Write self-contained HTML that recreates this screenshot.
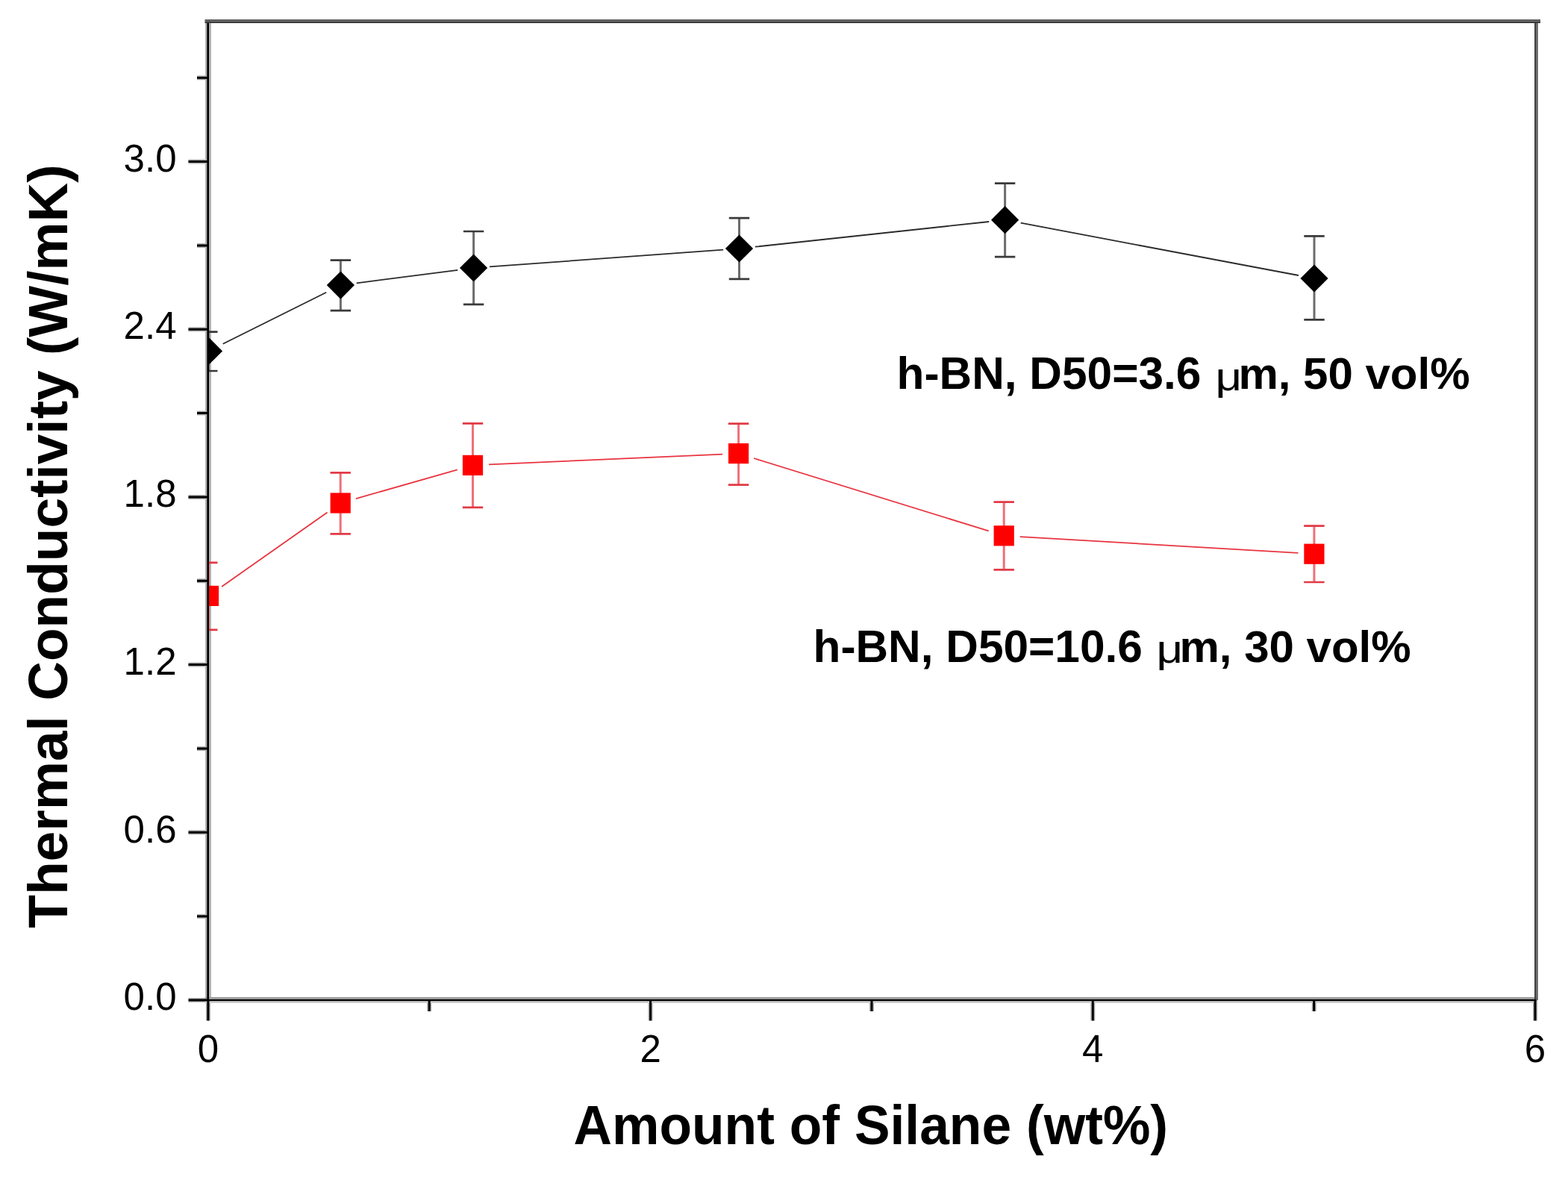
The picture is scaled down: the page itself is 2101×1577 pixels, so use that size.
<!DOCTYPE html><html><head><meta charset="utf-8"><title>Thermal Conductivity vs Amount of Silane</title><style>html,body{margin:0;padding:0;background:#fff;overflow:hidden;}svg{display:block;}text{font-family:"Liberation Sans",Arial,sans-serif;fill:#000;}</style></head><body>
<svg width="2101" height="1577" viewBox="0 0 2101 1577">
<rect x="0" y="0" width="2101" height="1577" fill="#fff"/>
<defs><clipPath id="pc"><rect x="278.7" y="28.5" width="1779.7" height="1311.5"/></clipPath></defs>
<path d="M252.5,1340.0H278.7M252.5,1115.3H278.7M252.5,890.6H278.7M252.5,665.9H278.7M252.5,441.2H278.7M252.5,216.5H278.7M264,1227.7H278.7M264,1003.0H278.7M264,778.2H278.7M264,553.6H278.7M264,328.9H278.7M264,104.2H278.7M278.9,1340.0V1367.5M871.6,1340.0V1367.5M1464.3,1340.0V1367.5M2057.0,1340.0V1367.5M575.2,1340.0V1355M1168.0,1340.0V1355M1760.7,1340.0V1355" stroke="#b0b0b0" stroke-width="6" fill="none"/>
<path d="M279,28.5V1340.0" stroke="#b4b4b4" stroke-width="8" fill="none"/>
<path d="M274.7,1337.5H2058.4" stroke="#9c9c9c" stroke-width="3" fill="none"/>
<path d="M274.7,1342.6H2058.4" stroke="#cdcdcd" stroke-width="2.8" fill="none"/>
<g clip-path="url(#pc)">
<path d="M298.7,460.8L437.2,391.7M477.7,379.3L613.3,361.8M656.0,357.4L969.1,334.6M1011.9,330.7L1325.2,297.0M1367.7,298.7L1739.9,369.0" fill="none" stroke="#2a2a2a" stroke-width="1.8"/>
<path d="M279.5,444.7V497.0" stroke="#6c6c6c" stroke-width="3.0" fill="none"/>
<path d="M267.5,444.7H291.5M267.5,497.0H291.5" stroke="#3a3a3a" stroke-width="2.7" fill="none"/>
<path d="M456.4,348.6V416.1" stroke="#6c6c6c" stroke-width="3.0" fill="none"/>
<path d="M442.7,348.6H470.1M442.7,416.1H470.1" stroke="#3a3a3a" stroke-width="2.7" fill="none"/>
<path d="M634.6,310.0V407.8" stroke="#6c6c6c" stroke-width="3.0" fill="none"/>
<path d="M620.9,310.0H648.3M620.9,407.8H648.3" stroke="#3a3a3a" stroke-width="2.7" fill="none"/>
<path d="M990.5,292.1V373.9" stroke="#6c6c6c" stroke-width="3.0" fill="none"/>
<path d="M976.8,292.1H1004.2M976.8,373.9H1004.2" stroke="#3a3a3a" stroke-width="2.7" fill="none"/>
<path d="M1346.6,245.7V344.2" stroke="#6c6c6c" stroke-width="3.0" fill="none"/>
<path d="M1332.9,245.7H1360.3M1332.9,344.2H1360.3" stroke="#3a3a3a" stroke-width="2.7" fill="none"/>
<path d="M1761.0,316.4V428.3" stroke="#6c6c6c" stroke-width="3.0" fill="none"/>
<path d="M1747.3,316.4H1774.7M1747.3,428.3H1774.7" stroke="#3a3a3a" stroke-width="2.7" fill="none"/>
<path d="M279.5,451.8L298.1,470.4L279.5,489.0L260.9,470.4Z" fill="#000"/>
<path d="M456.4,363.5L475.0,382.1L456.4,400.7L437.8,382.1Z" fill="#000"/>
<path d="M634.6,340.4L653.2,359.0L634.6,377.6L616.0,359.0Z" fill="#000"/>
<path d="M990.5,314.4L1009.1,333.0L990.5,351.6L971.9,333.0Z" fill="#000"/>
<path d="M1346.6,276.1L1365.2,294.7L1346.6,313.3L1328.0,294.7Z" fill="#000"/>
<path d="M1761.0,354.4L1779.6,373.0L1761.0,391.6L1742.4,373.0Z" fill="#000"/>
<path d="M297.1,786.0L438.6,686.4M476.9,668.1L612.8,629.3M655.0,622.4L968.1,608.6M1010.1,614.0L1324.7,711.4M1366.7,719.1L1739.4,740.9" fill="none" stroke="#e83440" stroke-width="1.8"/>
<path d="M279.5,753.9V843.8" stroke="#f07078" stroke-width="3.0" fill="none"/>
<path d="M267.5,753.9H291.5M267.5,843.8H291.5" stroke="#e23a46" stroke-width="2.7" fill="none"/>
<path d="M456.2,633.3V715.3" stroke="#f07078" stroke-width="3.0" fill="none"/>
<path d="M442.5,633.3H469.9M442.5,715.3H469.9" stroke="#e23a46" stroke-width="2.7" fill="none"/>
<path d="M633.5,567.4V679.8" stroke="#f07078" stroke-width="3.0" fill="none"/>
<path d="M619.8,567.4H647.2M619.8,679.8H647.2" stroke="#e23a46" stroke-width="2.7" fill="none"/>
<path d="M989.6,567.7V649.7" stroke="#f07078" stroke-width="3.0" fill="none"/>
<path d="M975.9,567.7H1003.3M975.9,649.7H1003.3" stroke="#e23a46" stroke-width="2.7" fill="none"/>
<path d="M1345.2,672.7V763.4" stroke="#f07078" stroke-width="3.0" fill="none"/>
<path d="M1331.5,672.7H1358.9M1331.5,763.4H1358.9" stroke="#e23a46" stroke-width="2.7" fill="none"/>
<path d="M1760.9,704.7V780.0" stroke="#f07078" stroke-width="3.0" fill="none"/>
<path d="M1747.2,704.7H1774.6M1747.2,780.0H1774.6" stroke="#e23a46" stroke-width="2.7" fill="none"/>
<rect x="265.9" y="784.8" width="27.2" height="27.2" fill="#ff0000"/>
<rect x="442.6" y="660.4" width="27.2" height="27.2" fill="#ff0000"/>
<rect x="619.9" y="609.8" width="27.2" height="27.2" fill="#ff0000"/>
<rect x="976.0" y="594.0" width="27.2" height="27.2" fill="#ff0000"/>
<rect x="1331.6" y="704.2" width="27.2" height="27.2" fill="#ff0000"/>
<rect x="1747.3" y="728.6" width="27.2" height="27.2" fill="#ff0000"/>
</g>
<path d="M274.5,27.25H2064" stroke="#5a5a5a" stroke-width="2.6" fill="none"/>
<path d="M274.5,29.75H2064" stroke="#3a3a3a" stroke-width="2.6" fill="none"/>
<path d="M2057.25,31.1V1340.0" stroke="#3e3e3e" stroke-width="2.4" fill="none"/>
<path d="M2059.55,31.1V1340.0" stroke="#5c5c5c" stroke-width="2.4" fill="none"/>
<path d="M252.5,1340.0H278.7M252.5,1115.3H278.7M252.5,890.6H278.7M252.5,665.9H278.7M252.5,441.2H278.7M252.5,216.5H278.7M264,1227.7H278.7M264,1003.0H278.7M264,778.2H278.7M264,553.6H278.7M264,328.9H278.7M264,104.2H278.7M278.9,1340.0V1367.5M871.6,1340.0V1367.5M1464.3,1340.0V1367.5M2057.0,1340.0V1367.5M575.2,1340.0V1355M1168.0,1340.0V1355M1760.7,1340.0V1355" stroke="#000" stroke-width="3.0" fill="none"/>
<path d="M278.7,31.1V1340.0" stroke="#000" stroke-width="2.7" fill="none"/>
<path d="M277.7,1340.1H2058.4" stroke="#000" stroke-width="2.4" fill="none"/>
<text x="236.5" y="1353.2" font-size="51" text-anchor="end">0.0</text>
<text x="236.5" y="1128.5" font-size="51" text-anchor="end">0.6</text>
<text x="236.5" y="903.8" font-size="51" text-anchor="end">1.2</text>
<text x="236.5" y="679.1" font-size="51" text-anchor="end">1.8</text>
<text x="236.5" y="454.4" font-size="51" text-anchor="end">2.4</text>
<text x="236.5" y="229.7" font-size="51" text-anchor="end">3.0</text>
<text x="278.9" y="1422.5" font-size="51" text-anchor="middle">0</text>
<text x="871.6" y="1422.5" font-size="51" text-anchor="middle">2</text>
<text x="1464.3" y="1422.5" font-size="51" text-anchor="middle">4</text>
<text x="2057.0" y="1422.5" font-size="51" text-anchor="middle">6</text>
<text transform="translate(1166.8,1532.7) scale(0.991,1.02)" font-size="72" font-weight="bold" text-anchor="middle">Amount of Silane (wt%)</text>
<text transform="translate(89.5,731.9) rotate(-90) scale(1.015,1.02)" font-size="72" font-weight="bold" text-anchor="middle">Thermal Conductivity (W/mK)</text>
<text x="1201.6" y="520.9" font-size="60.4" font-weight="bold">h-BN, D50=3.6</text>
<text transform="translate(1628.4,522.7) scale(1.03,0.86)" font-size="60">μ</text>
<text x="1659.4" y="520.9" font-size="60" font-weight="bold">m, 50 vol%</text>
<text x="1089.5" y="886.6" font-size="60.4" font-weight="bold">h-BN, D50=10.6</text>
<text transform="translate(1549.5,887.6) scale(1.03,0.86)" font-size="60">μ</text>
<text x="1580.5" y="886.6" font-size="60" font-weight="bold">m, 30 vol%</text>
</svg></body></html>
